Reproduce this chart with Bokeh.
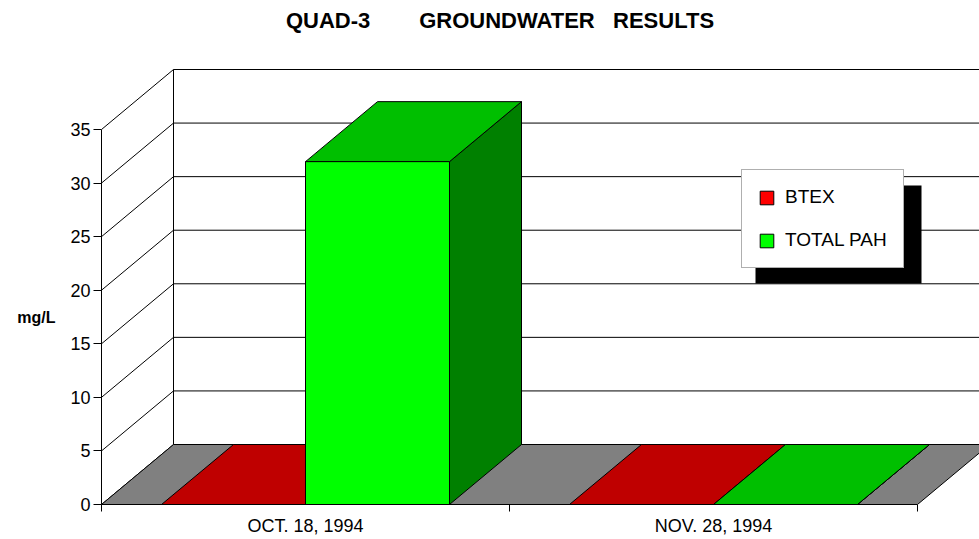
from bokeh.plotting import figure
from bokeh.models import Range1d, FixedTicker, Legend, LegendItem, Label, BoxAnnotation
from bokeh.embed import file_html
from bokeh.resources import INLINE

# ---------------- data ----------------
categories = ["OCT. 18, 1994", "NOV. 28, 1994"]
series_names = ["BTEX", "TOTAL PAH"]
btex = [0.0, 0.0]
total_pah = [32.0, 0.0]
y_ticks = [0, 5, 10, 15, 20, 25, 30, 35]
title_text = "QUAD-3" + "\u00a0" * 8 + "GROUNDWATER" + "\u00a0" * 3 + "RESULTS"
y_label = "mg/L"

# ---------------- style ----------------
front_colors = ["#FF0000", "#00FF00"]
top_colors = ["#BF0000", "#00BF00"]
side_colors = ["#800000", "#008000"]
floor_color = "#808080"
FONT = "Liberation Sans"

PX_PER_CAT = 408.0
PX_PER_UNIT = 375.0 / 35.0
DEPTH_X = 72.0 / PX_PER_CAT
DEPTH_Y = 60.0 / PX_PER_UNIT
GAP = 60.0 / PX_PER_CAT
BAR_W = 144.0 / PX_PER_CAT

W, H = 979, 539
LEFT, BOTTOM = 101, 35
frame_w = W - LEFT
frame_h = H - BOTTOM
x_end = frame_w / PX_PER_CAT
y_end = frame_h / PX_PER_UNIT
n = len(categories)
ymax = y_ticks[-1]

p = figure(width=W, height=H, output_backend="svg", toolbar_location=None,
           x_range=Range1d(0, x_end), y_range=Range1d(0, y_end),
           min_border=0, min_border_left=LEFT, min_border_bottom=BOTTOM,
           min_border_top=0, min_border_right=0)
p.outline_line_color = None
p.xgrid.visible = False
p.ygrid.visible = False
p.background_fill_color = "white"
p.border_fill_color = "white"

line_kw = dict(line_color="black", line_width=1)

# left wall diagonals
nt = len(y_ticks)
p.segment(x0=[0.0] * nt, y0=y_ticks, x1=[DEPTH_X] * nt,
          y1=[v + DEPTH_Y for v in y_ticks], **line_kw)
# back wall grid lines
p.segment(x0=[DEPTH_X] * nt, y0=[v + DEPTH_Y for v in y_ticks],
          x1=[n + DEPTH_X] * nt, y1=[v + DEPTH_Y for v in y_ticks], **line_kw)
# back wall left edge
p.segment(x0=[DEPTH_X], y0=[DEPTH_Y], x1=[DEPTH_X], y1=[ymax + DEPTH_Y], **line_kw)

# floor
p.patch(x=[0, n, n + DEPTH_X, DEPTH_X], y=[0, 0, DEPTH_Y, DEPTH_Y],
        fill_color=floor_color, **line_kw)

# bars
legend_items = []
for j, (name, vals) in enumerate(zip(series_names, [btex, total_pah])):
    x0s = [i + GAP + j * BAR_W for i in range(n)]
    x1s = [x + BAR_W for x in x0s]
    side_xs = [[a, a + DEPTH_X, a + DEPTH_X, a] for a in x1s]
    side_ys = [[0, DEPTH_Y, v + DEPTH_Y, v] for v in vals]
    top_xs = [[a, b, b + DEPTH_X, a + DEPTH_X] for a, b in zip(x0s, x1s)]
    top_ys = [[v, v, v + DEPTH_Y, v + DEPTH_Y] for v in vals]
    p.patches(side_xs, side_ys, fill_color=side_colors[j], **line_kw)
    p.patches(top_xs, top_ys, fill_color=top_colors[j], **line_kw)
    r = p.quad(left=x0s, right=x1s, bottom=[0] * n, top=vals,
               fill_color=front_colors[j], **line_kw)
    legend_items.append(LegendItem(label=name, renderers=[r]))

# axes
xa = p.xaxis[0]
xa.ticker = FixedTicker(ticks=[i + 0.5 for i in range(n)], minor_ticks=list(range(n + 1)))
xa.major_label_overrides = {i + 0.5: c for i, c in enumerate(categories)}
xa.bounds = (0, n)
xa.major_tick_line_color = None
xa.major_tick_out = 0
xa.major_tick_in = 0
xa.minor_tick_line_color = "black"
xa.minor_tick_out = 7
xa.minor_tick_in = 0
xa.major_label_standoff = 4
xa.major_label_text_font = FONT
xa.major_label_text_font_size = "18px"
xa.major_label_text_color = "black"
xa.axis_line_color = "black"

ya = p.yaxis[0]
ya.ticker = FixedTicker(ticks=y_ticks)
ya.bounds = (0, ymax)
ya.major_tick_out = 8
ya.major_tick_in = 0
ya.minor_tick_line_color = None
ya.major_tick_line_color = "black"
ya.major_label_standoff = 3
ya.major_label_text_font = FONT
ya.major_label_text_font_size = "18px"
ya.major_label_text_color = "black"
ya.axis_line_color = "black"
# blank leading lines push the centred label down to its place beside the axis
ya.axis_label = "\n" * 4 + y_label
ya.axis_label_standoff = 12
ya.axis_label_text_font = FONT
ya.axis_label_text_font_style = "bold"
ya.axis_label_text_font_size = "16px"
ya.axis_label_text_line_height = 1.9
ya.axis_label_text_color = "black"
try:
    ya.axis_label_orientation = "horizontal"
except Exception:
    pass

# legend shadow + legend
shadow = BoxAnnotation(left=654, right=820, top=319, bottom=221,
                       left_units="screen", right_units="screen",
                       top_units="screen", bottom_units="screen",
                       fill_color="black", fill_alpha=1.0, line_color=None)
p.add_layout(shadow)

legend = Legend(items=legend_items, location=(640, 236), orientation="vertical",
                margin=0, padding=16, spacing=21, glyph_width=17, glyph_height=17,
                label_standoff=10, label_text_font=FONT, label_text_font_size="19px",
                label_text_color="black", border_line_color="#606060",
                border_line_width=1, background_fill_color="white",
                background_fill_alpha=1.0)
p.add_layout(legend)

# title
p.add_layout(Label(x=398.5, y=484, x_units="screen", y_units="screen",
                   text=title_text, text_align="center", text_baseline="middle",
                   text_font=FONT, text_font_style="bold", text_font_size="22px",
                   text_color="black"))

open("out.html", "w").write(file_html(p, INLINE))
